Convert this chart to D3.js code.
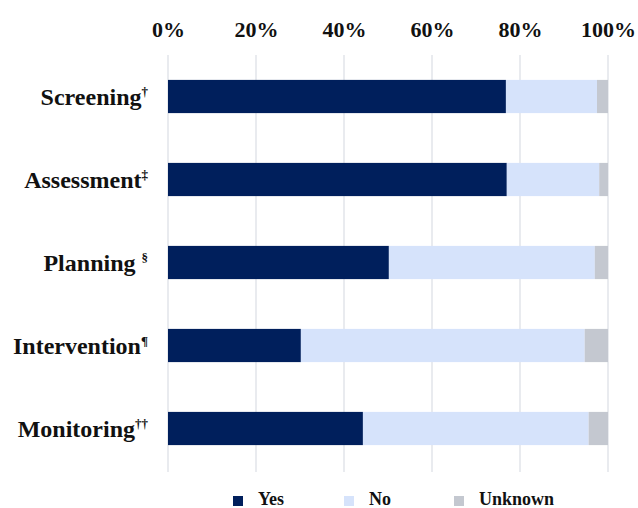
<!DOCTYPE html>
<meta charset="utf-8">
<style>
  body { margin: 0; background: #fff; }
  text { font-family: "Liberation Serif", "Times New Roman", serif; font-weight: bold; fill: #111; }
</style>
<svg id="chart" width="638" height="508"></svg>
<script src="https://cdn.jsdelivr.net/npm/d3@7"></script>
<script>

var categories = ["Screening", "Assessment", "Planning", "Intervention", "Monitoring"];
var marks = ["\u2020", "\u2021", "\u00a7", "\u00b6", "\u2020\u2020"];
var yesValues = [76.8, 77.0, 50.2, 30.2, 44.3];
var noValues = [20.7, 21.0, 46.8, 64.5, 51.3];
var unknownValues = [2.5, 2.0, 3.0, 5.3, 4.4];
var seriesNames = ["Yes", "No", "Unknown"];
var tickValues = [0, 20, 40, 60, 80, 100];

var colors = ["#001f5c", "#d6e3fb", "#c4c8d0"];

var svg = d3.select("#chart");

var x = d3.scaleLinear().domain([0, 100]).range([168, 608]);
var y = d3.scaleBand().domain(categories).range([55, 470])
  .paddingInner(0.6).paddingOuter(0.3);

// rows for the stack
var rows = categories.map(function(c, i) {
  return { cat: c, Yes: yesValues[i], No: noValues[i], Unknown: unknownValues[i] };
});
var stacked = d3.stack().keys(seriesNames)(rows);

// grid lines
svg.append("g").selectAll("line")
  .data(tickValues)
  .join("line")
  .attr("x1", function(d) { return x(d); })
  .attr("x2", function(d) { return x(d); })
  .attr("y1", 55)
  .attr("y2", 472)
  .attr("stroke", "#e2e5ea")
  .attr("stroke-width", 1.5);

// top axis labels
var axis = d3.axisTop(x).tickValues(tickValues)
  .tickFormat(function(d) { return d + "%"; })
  .tickSize(0).tickPadding(0);
var ax = svg.append("g").attr("transform", "translate(0,37)").call(axis);
ax.select(".domain").remove();
ax.selectAll("text")
  .attr("dy", 0)
  .style("font-size", "22px")
  .style("font-family", "'Liberation Serif', serif")
  .style("font-weight", "bold")
  .attr("fill", "#111");

// bars
svg.append("g").selectAll("g")
  .data(stacked)
  .join("g")
  .attr("fill", function(d, i) { return colors[i]; })
  .selectAll("rect")
  .data(function(d) { return d; })
  .join("rect")
  .attr("x", function(d) { return x(d[0]); })
  .attr("width", function(d) { return x(d[1]) - x(d[0]); })
  .attr("y", function(d) { return y(d.data.cat); })
  .attr("height", y.bandwidth());

// category labels
var lab = svg.append("g").selectAll("text")
  .data(categories)
  .join("text")
  .attr("text-anchor", "end")
  .attr("x", 148)
  .attr("y", function(d) { return y(d) + y.bandwidth() / 2 + 8; })
  .style("font-size", "24px");
lab.append("tspan").text(function(d, i) { return d + (i == 2 ? " " : ""); });
lab.append("tspan")
  .attr("dy", -9)
  .style("font-size", "13px")
  .text(function(d, i) { return marks[i]; });

// legend
var legX = [233, 344, 454];
var leg = svg.append("g").selectAll("g")
  .data(seriesNames)
  .join("g")
  .attr("transform", function(d, i) { return "translate(" + legX[i] + ",0)"; });
leg.append("rect")
  .attr("y", 496)
  .attr("width", 10)
  .attr("height", 10)
  .attr("fill", function(d, i) { return colors[i]; });
leg.append("text")
  .attr("x", 25)
  .attr("y", 505)
  .style("font-size", "18px")
  .text(function(d) { return d; });

</script>
</html>
